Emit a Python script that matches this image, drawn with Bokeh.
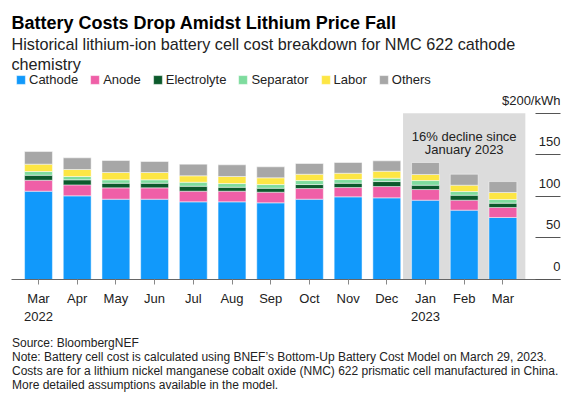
from bokeh.plotting import figure
from bokeh.layouts import column
from bokeh.models import (Range1d, LinearAxis, FixedTicker, BoxAnnotation, Label,
                          LabelSet, ColumnDataSource)
from bokeh.core.properties import value
from bokeh.embed import file_html
from bokeh.resources import INLINE

# ---------------- data ----------------
months = ["Mar\n2022", "Apr", "May", "Jun", "Jul", "Aug", "Sep", "Oct", "Nov", "Dec",
          "Jan\n2023", "Feb", "Mar"]
components = ["Cathode", "Anode", "Electrolyte", "Separator", "Labor", "Others"]
cathode     = [106.2, 100.6, 96.6, 96.6, 93.4, 93.4, 92.2, 96.6, 99.4, 98.2, 95.4, 83.4, 74.6]
anode       = [13.2, 13.2, 13.6, 13.6, 12.8, 12.8, 12.8, 12.8, 11.2, 13.6, 12.8, 12.0, 12.0]
electrolyte = [6.0, 6.1, 5.6, 5.6, 6.0, 4.8, 4.8, 4.8, 5.2, 6.0, 5.2, 6.0, 5.2]
separator   = [4.5, 4.0, 4.1, 4.1, 4.8, 4.4, 4.4, 4.8, 4.4, 4.0, 5.6, 4.4, 4.4]
labor       = [8.8, 8.4, 8.8, 8.8, 7.7, 8.5, 8.1, 7.6, 7.6, 8.4, 7.3, 7.6, 8.4]
others      = [15.2, 14.0, 14.4, 13.2, 14.0, 14.0, 13.2, 12.9, 12.9, 12.5, 14.4, 13.2, 13.2]
colors = ["#1199fb", "#ef5fa7", "#0c5a2c", "#7edc9e", "#fde644", "#a7a7a7"]

y_ticks = [0, 50, 100, 150, 200]
y_tick_labels = ["0", "50", "100", "150", "$200/kWh"]
highlight_first, highlight_last = 10, 12
annotation_lines = ["16% decline since", "January 2023"]

title = "Battery Costs Drop Amidst Lithium Price Fall"
subtitle_lines = ["Historical lithium-ion battery cell cost breakdown for NMC 622 cathode",
                  "chemistry"]
notes = ["Source: BloombergNEF",
         "Note: Battery cell cost is calculated using BNEF\u2019s Bottom-Up Battery Cost Model on March 29, 2023.",
         "Costs are for a lithium nickel manganese cobalt oxide (NMC) 622 prismatic cell manufactured in China.",
         "More detailed assumptions available in the model."]

# ---------------- layout constants ----------------
FONT = "Liberation Sans"
W = 576
FRAME_L, FRAME_R = 11, 560          # frame edges (px)
FRAME_H = 279                       # frame from canvas top down to the baseline
BOTTOM = 52                         # x-axis panel
MAIN_H = FRAME_H + BOTTOM
FOOT_H = 394 - MAIN_H
TOP_TICK_PX = 112.7                 # pixel row of the top tick
FIRST_BAR_PX, STEP_PX = 38.0, 38.7
BAR_W = 0.72
PAD = 0.58

x_pos = list(range(len(months)))
x_start = -(FIRST_BAR_PX - FRAME_L) / STEP_PX
x_end = (FRAME_R - FIRST_BAR_PX) / STEP_PX
y_end = y_ticks[-1] * FRAME_H / (FRAME_H - TOP_TICK_PX)

p = figure(width=W, height=MAIN_H, output_backend="svg", toolbar_location=None,
           x_range=Range1d(x_start, x_end), y_range=Range1d(y_ticks[0], y_end),
           min_border_left=FRAME_L, min_border_right=W - FRAME_R, min_border_top=0,
           min_border_bottom=BOTTOM, y_axis_location=None, outline_line_color=None)
p.xgrid.visible = False
p.ygrid.visible = False

# highlight band
p.add_layout(BoxAnnotation(left=highlight_first - PAD, right=highlight_last + PAD,
                           bottom=y_ticks[0], top=y_ticks[-1],
                           fill_color="#dcdcdc", fill_alpha=1.0, line_color=None,
                           level="underlay"))

src = ColumnDataSource(dict(x=x_pos, Cathode=cathode, Anode=anode, Electrolyte=electrolyte,
                            Separator=separator, Labor=labor, Others=others))
p.vbar_stack(components, x="x", width=BAR_W, source=src, fill_color=colors,
             line_color="white", line_width=0.6, line_alpha=0.8, legend_label=components)

lg = p.legend[0]
lg.orientation = "horizontal"
lg.location = (4, 192)
lg.padding = 0
lg.margin = 0
lg.spacing = 11
lg.glyph_width = 11
lg.glyph_height = 11
lg.label_standoff = 3
lg.label_height = 11
lg.label_text_font = FONT
lg.label_text_font_size = "13px"
lg.label_text_color = "#222222"
lg.background_fill_alpha = 0
lg.border_line_color = None

# x axis
xax = p.xaxis[0]
xax.ticker = FixedTicker(ticks=x_pos)
xax.major_label_overrides = {i: m for i, m in enumerate(months)}
xax.axis_line_color = "#666666"
xax.major_tick_line_color = "#888888"
xax.major_tick_out = 5
xax.major_tick_in = 0
xax.minor_tick_line_color = None
xax.major_label_standoff = 6
xax.major_label_text_font = FONT
xax.major_label_text_font_size = "13px"
xax.major_label_text_color = "#222222"

# right-side short tick lines
yax = LinearAxis(ticker=FixedTicker(ticks=y_ticks), axis_line_color=None,
                 major_tick_in=25, major_tick_out=0, minor_tick_line_color=None,
                 major_tick_line_color="#555555", major_tick_line_width=1,
                 major_label_overrides={t: "" for t in y_ticks}, major_label_standoff=0)
p.add_layout(yax, "right")

ysrc = ColumnDataSource(dict(y=y_ticks, text=y_tick_labels, x=[x_end] * len(y_ticks)))
p.add_layout(LabelSet(x="x", y="y", text="text", source=ysrc, x_offset=0, y_offset=8.5,
                      text_align="right", text_baseline="alphabetic", text_font=value(FONT),
                      text_font_size=value("13px"), text_color="#222222"))

# band annotation
cx = (highlight_first + highlight_last) / 2
for line, off in zip(annotation_lines, [-23, -36.5]):
    p.add_layout(Label(x=cx, y=y_ticks[-1], y_offset=off, text=line, text_align="center",
                       text_baseline="alphabetic", text_font=FONT, text_font_size="13px",
                       text_color="#222222"))

# title block (canvas units, inside the frame)
p.add_layout(Label(x=11, y=22, x_units="canvas", y_units="canvas", text=title,
                   text_font=FONT, text_font_style="bold", text_font_size="18px",
                   text_baseline="alphabetic", text_color="#000000"))
for line, yy in zip(subtitle_lines, [43.3, 63.5]):
    p.add_layout(Label(x=11, y=yy, x_units="canvas", y_units="canvas", text=line,
                       text_font=FONT, text_font_size="16.2px", text_baseline="alphabetic",
                       text_color="#222222"))

# footer with notes
foot = figure(width=W, height=FOOT_H, output_backend="svg", toolbar_location=None,
              x_range=Range1d(0, 1), y_range=Range1d(0, 1), min_border=0,
              x_axis_location=None, y_axis_location=None, outline_line_color=None)
foot.xgrid.visible = False
foot.ygrid.visible = False
for line, yy in zip(notes, [342.3, 356.5, 370.6, 384.3]):
    foot.add_layout(Label(x=11.5, y=yy - MAIN_H, x_units="canvas", y_units="canvas", text=line,
                          text_font=FONT, text_font_size="12px", text_baseline="alphabetic",
                          text_color="#222222"))

open("out.html", "w").write(file_html(column(p, foot), INLINE))
